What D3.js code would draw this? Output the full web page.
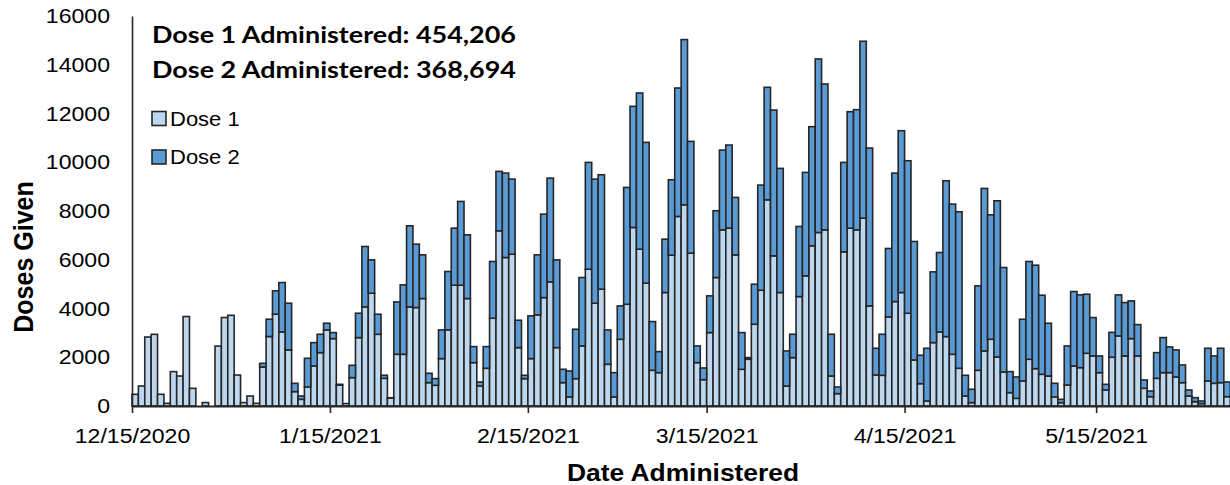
<!DOCTYPE html>
<html>
<head>
<meta charset="utf-8">
<script src="https://cdn.jsdelivr.net/npm/d3@7"></script>
<style>
  body { margin: 0; background: #fff; }
  svg { display: block; }
  text { font-family: "Liberation Sans", Arial, sans-serif; fill: #000; }
</style>
</head>
<body>
<svg id="chart" width="1230" height="485"></svg>
<script>
// daily doses, one per day starting 12/15/2020
var startDate = "2020-12-15";
var dose1 = [
  480, 820, 2830, 2940, 480, 110, 1410, 1230, 3670, 725,
  0, 140, 0, 2460, 3630, 3720, 1270, 140, 410, 110,
  1600, 2850, 3765, 3040, 2300, 590, 274, 780, 1643, 2190,
  3121, 2765, 860, 100, 1164, 2806, 4066, 4627, 2943, 1136,
  320, 2122, 2122, 4066, 4040, 4408, 958, 849, 1944, 3121,
  4956, 4956, 4408, 1780, 821, 1547, 3600, 7187, 6092, 6229,
  2396, 1123, 1944, 3737, 4449, 5093, 2396, 958, 370, 1123,
  2464, 5613, 4217, 4792, 1711, 370, 2738, 4175, 7324, 6434,
  5038, 1465, 1369, 4655, 6188, 7776, 8255, 6270, 1780, 1080,
  3012, 5271, 7228, 7297, 6201, 1506, 1917, 3354, 4750, 8460,
  6160, 4655, 821, 1985, 4490, 5339, 6571, 7119, 7228, 1232,
  507, 6325, 7297, 7228, 7707, 4107, 1273, 1260, 3655, 4285,
  4655, 3806, 1889, 917, 205, 2601, 3039, 2848, 2122, 1547,
  411, 137, 1465, 2259, 2738, 2012, 1396, 548, 315, 1027,
  1917, 1533, 1301, 1232, 370, 137, 862, 1643, 1574, 2163,
  2054, 1369, 657, 2000, 2875, 2054, 2765, 2054, 726, 383,
  1136, 1369, 1369, 1191, 958, 411, 178, 100, 1027, 931,
  958, 383
];
var dose2 = [
  0, 0, 0, 0, 0, 0, 0, 0, 0, 0,
  0, 0, 0, 0, 0, 0, 0, 0, 0, 0,
  150, 710, 958, 2025, 1917, 340, 136, 1178, 957, 753,
  274, 247, 30, 0, 506, 1000, 2478, 1369, 822, 124,
  20, 2149, 2848, 3327, 2600, 1793, 384, 274, 1177, 2396,
  2341, 3436, 2615, 657, 165, 890, 2328, 2437, 3464, 3080,
  1122, 137, 1752, 2464, 3423, 4257, 3600, 548, 1067, 2026,
  2807, 4381, 5092, 4695, 1410, 999, 1369, 4792, 4970, 6407,
  5777, 1999, 862, 2190, 3094, 5270, 6777, 4586, 684, 480,
  1506, 2738, 3272, 3409, 2355, 1506, 68, 1643, 4313, 4614,
  5983, 5092, 1438, 958, 2875, 4244, 4887, 7119, 5983, 1711,
  273, 3669, 4778, 4929, 7256, 6475, 1095, 1683, 2807, 5271,
  6639, 6256, 4860, 1164, 2163, 2902, 3258, 6393, 6160, 6421,
  849, 548, 3463, 6667, 5106, 6407, 4285, 862, 876, 2532,
  4011, 4244, 3244, 2163, 561, 137, 1602, 3053, 2985, 2423,
  1574, 685, 233, 1020, 1684, 2190, 1547, 1286, 342, 233,
  1054, 1437, 1054, 1109, 726, 246, 164, 105, 1341, 1123,
  1410, 603
];
var tickLabels = ["12/15/2020", "1/15/2021", "2/15/2021", "3/15/2021", "4/15/2021", "5/15/2021"];
var yTicks = [0, 2000, 4000, 6000, 8000, 10000, 12000, 14000, 16000];
var seriesNames = ["Dose 1", "Dose 2"];
var totals = ["Dose 1 Administered: 454,206", "Dose 2 Administered: 368,694"];

var colors = ["#bdd7ee", "#5b9bd5"];
var edge = "#262626";
var stretch = 1.1;   // picture is a bit wider than tall

var svg = d3.select("#chart");
var start = d3.utcParse("%Y-%m-%d")(startDate);
var days = 172;

var x = d3.scaleUtc()
  .domain([start, d3.utcDay.offset(start, days)])
  .range([132, 132 + days * 6.385]);
var y = d3.scaleLinear().domain([0, 16000]).range([406, 16]);

var rows = dose1.map(function(d, i) {
  return { date: d3.utcDay.offset(start, i), d1: d, d2: dose2[i] };
});
var stack = d3.stack().keys(["d1", "d2"])(rows);

svg.append("g").selectAll("g")
  .data(stack)
  .join("g")
  .attr("fill", function(d, i) { return colors[i]; })
  .selectAll("rect")
  .data(function(d) { return d; })
  .join("rect")
  .attr("x", function(d) { return x(d.data.date); })
  .attr("width", function(d) { return x(d3.utcDay.offset(d.data.date, 1)) - x(d.data.date); })
  .attr("y", function(d) { return y(d[1]); })
  .attr("height", function(d) { return y(d[0]) - y(d[1]); })
  .attr("stroke", edge)
  .attr("stroke-width", 1.6)
  .style("display", function(d) { return d[1] - d[0] > 0 ? null : "none"; });

// y axis
var yAxis = svg.append("g")
  .attr("transform", "translate(132,0)")
  .call(d3.axisLeft(y).tickValues(yTicks).tickSize(0).tickPadding(0).tickFormat(d3.format("d")));
yAxis.select(".domain").attr("stroke", edge).attr("stroke-width", 1.6);
yAxis.selectAll("text")
  .attr("x", -22 / stretch)
  .attr("transform", "scale(" + stretch + ",1)")
  .style("font-size", "21px")
  .style("font-family", "'Liberation Sans', Arial, sans-serif")
  .attr("fill", "#000");

// x axis
var parseTick = d3.utcParse("%m/%d/%Y");
var xAxis = svg.append("g")
  .attr("transform", "translate(0,406)")
  .call(d3.axisBottom(x)
    .tickValues(tickLabels.map(parseTick))
    .tickFormat(d3.utcFormat("%-m/%-d/%Y"))
    .tickSize(7).tickSizeOuter(0).tickPadding(5));
xAxis.select(".domain").attr("stroke", edge).attr("stroke-width", 2);
xAxis.selectAll("line").attr("stroke", edge).attr("stroke-width", 1.6);
xAxis.selectAll("text")
  .attr("y", 37).attr("dy", null)
  .attr("transform", "scale(" + stretch + ",1)")
  .style("font-size", "21px")
  .style("font-family", "'Liberation Sans', Arial, sans-serif")
  .attr("fill", "#000");

// axis titles
svg.append("text")
  .attr("transform", "translate(683,481) scale(" + stretch + ",1)")
  .attr("text-anchor", "middle")
  .style("font-size", "24px").style("font-weight", "bold")
  .text("Date Administered");

svg.append("text")
  .attr("transform", "translate(33,257) scale(" + stretch + ",1) rotate(-90)")
  .attr("text-anchor", "middle")
  .style("font-size", "25px").style("font-weight", "bold")
  .text("Doses Given");

// totals
svg.selectAll(".total")
  .data(totals)
  .join("text")
  .attr("class", "total")
  .attr("x", 152)
  .attr("y", function(d, i) { return 43 + i * 35; })
  .attr("textLength", 364)
  .attr("lengthAdjust", "spacingAndGlyphs")
  .style("font-family", "Lato, 'Open Sans', sans-serif")
  .style("font-weight", "bold")
  .style("font-size", "23px")
  .text(function(d) { return d; });

// legend
var legend = svg.append("g").selectAll("g")
  .data(seriesNames)
  .join("g")
  .attr("transform", function(d, i) { return "translate(152," + (111.5 + i * 38.5) + ")"; });
legend.append("rect")
  .attr("width", 14).attr("height", 14)
  .attr("fill", function(d, i) { return colors[i]; })
  .attr("stroke", edge).attr("stroke-width", 1.6);
legend.append("text")
  .attr("transform", "translate(18,14) scale(" + stretch + ",1)")
  .style("font-size", "20px")
  .text(function(d) { return d; });
</script>
</body>
</html>
